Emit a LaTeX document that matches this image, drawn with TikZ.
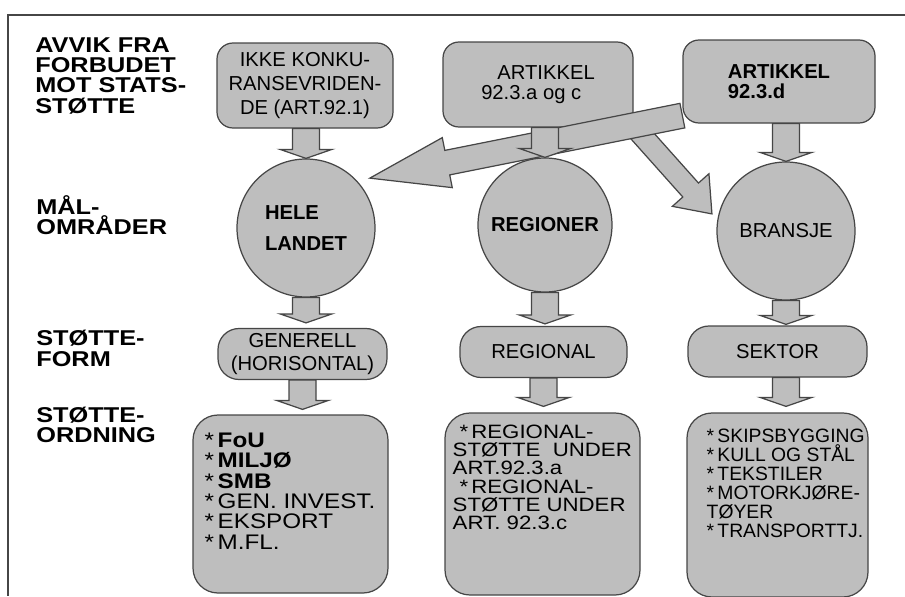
\documentclass[tikz,border=0pt]{standalone}
\usepackage{fontspec}
\setmainfont{Liberation Sans}
\newfontfamily\widesf[FakeStretch=1.18]{Liberation Sans}
\newfontfamily\listsf[FakeStretch=1.15]{Liberation Sans}
\usetikzlibrary{calc}
\definecolor{scangray}{RGB}{190,190,190}
\definecolor{edgegray}{RGB}{70,70,70}
\newcommand{\boxfont}{\fontsize{11.5}{13.5}\selectfont}

% fat arrow from #1 to #2: shaft half width #3, head half width #4, head length #5 (cm)
\newcommand{\blockarrow}[5]{%
  \coordinate (ba-s) at (#1);
  \coordinate (ba-t) at (#2);
  \coordinate (ba-h) at ($(ba-t)!#5cm!(ba-s)$);
  \filldraw[fatarrow] ($(ba-s)!#3cm!90:(ba-t)$) -- ($(ba-h)!#3cm!90:(ba-t)$)
    -- ($(ba-h)!#4cm!90:(ba-t)$) -- (ba-t) -- ($(ba-h)!#4cm!-90:(ba-t)$)
    -- ($(ba-h)!#3cm!-90:(ba-t)$) -- ($(ba-s)!#3cm!-90:(ba-t)$) -- cycle;
}

\begin{document}
\begin{tikzpicture}[
    every node/.style={inner sep=0pt},
    box/.style={draw=edgegray, fill=scangray, line width=0.7pt, align=center, font=\boxfont},
    topbox/.style={box, rounded corners=0.32cm, minimum height=1.70cm},
    ring/.style={box, circle},
    pill/.style={box, rounded corners=0.42cm, minimum height=1.02cm},
    listbox/.style={box, rounded corners=0.5cm},
    rowlabel/.style={anchor=north west, align=left, font=\widesf\bfseries\fontsize{12.2}{11.6}\selectfont},
    listtext/.style={anchor=north west, align=left},
    fatarrow/.style={draw=edgegray, fill=scangray, line width=0.7pt}
  ]
\useasboundingbox (0,0) rectangle (18.1,-11.92);
\draw[edgegray, line width=1.2pt] (18.1,-0.30) -- (0.16,-0.30) -- (0.16,-11.92);

% row labels
\node[rowlabel] (avvik) at (0.70,-0.74) {AVVIK FRA\\FORBUDET\\MOT STATS-\\STØTTE};
\node[rowlabel] (maal) at (0.72,-3.90) {MÅL-\\OMRÅDER};
\node[rowlabel] (form) at (0.72,-6.60) {STØTTE-\\FORM};
\node[rowlabel] (ordning) at (0.72,-8.13) {STØTTE-\\ORDNING};

% top row
\node[topbox, minimum width=3.52cm] (art1) at (6.10,-1.71) {IKKE KONKU-\\RANSEVRIDEN-\\DE (ART.92.1)};
\node[topbox, minimum width=3.80cm, align=left, font=\fontsize{11.5}{11.5}\selectfont] (art2) at (10.76,-1.69) {\hspace*{0.8em}ARTIKKEL\\92.3.a og c};
\node[topbox, minimum width=3.84cm, minimum height=1.66cm, align=left, font=\fontsize{11.5}{11.5}\selectfont\bfseries] (art3) at (15.58,-1.63) {ARTIKKEL\\92.3.d};

% circles
\node[ring, minimum size=2.76cm, align=left, font=\boxfont\bfseries] (hele) at (6.12,-4.56) {HELE\\[4pt]LANDET};
\node[ring, minimum size=2.68cm, font=\boxfont\bfseries] (regioner) at (10.90,-4.50) {REGIONER};
\node[ring, minimum size=2.76cm] (bransje) at (15.72,-4.62) {BRANSJE};

% support forms
\node[pill, minimum width=3.38cm] (gen) at (6.05,-7.08) {GENERELL\\(HORISONTAL)};
\node[pill, minimum width=3.34cm] (reg) at (10.87,-7.04) {REGIONAL};
\node[pill, minimum width=3.58cm] (sek) at (15.55,-7.03) {SEKTOR};

% schemes
\node[listbox, minimum width=3.90cm, minimum height=3.56cm] (fou) at (5.81,-10.08) {};
\node[listbox, minimum width=3.90cm, minimum height=3.64cm] (regst) at (10.85,-10.08) {};
\node[listbox, minimum width=3.62cm, minimum height=3.68cm] (skip) at (15.55,-10.10) {};
\node[listtext, font=\listsf\fontsize{12}{11.6}\selectfont] (fou-t) at ($(fou.north west)+(0.24,-0.36)$)
  {*\,\textbf{FoU}\\*\,\textbf{MILJØ}\\*\,\textbf{SMB}\\*\,GEN. INVEST.\\*\,EKSPORT\\*\,M.FL.};
\node[listtext, font=\listsf\fontsize{11}{10.4}\selectfont] (regst-t) at ($(regst.north west)+(0.16,-0.24)$)
  {\hspace*{0.35em}*\,REGIONAL-\\STØTTE\ \ UNDER\\ART.92.3.a\\\hspace*{0.35em}*\,REGIONAL-\\STØTTE UNDER\\ART. 92.3.c};
\node[listtext, font=\fontsize{11}{10.8}\selectfont] (skip-t) at ($(skip.north west)+(0.40,-0.32)$)
  {*\,SKIPSBYGGING\\*\,KULL OG STÅL\\*\,TEKSTILER\\*\,MOTORKJØRE-\\TØYER\\*\,TRANSPORTTJ.};

% crossing arrows from 92.3.d
\coordinate (fork) at ($(art3.south west)+(-1.02,0)$);
\coordinate (hele-in) at ($(hele.center)+(38:1.62)$);
\coordinate (bransje-in) at ($(bransje.center)+(167:1.52)$);
\blockarrow{fork}{bransje-in}{0.21}{0.49}{0.64}
\blockarrow{$(art3.south west)+(0,0.16)$}{hele-in}{0.25}{0.51}{1.58}

% down arrows
\blockarrow{hele.north |- art1.south}{hele.north}{0.27}{0.52}{0.18}
\blockarrow{regioner.north |- art2.south}{regioner.north}{0.27}{0.52}{0.18}
\blockarrow{bransje.north |- art3.south}{bransje.north}{0.27}{0.52}{0.18}
\blockarrow{hele.south}{$(hele.south |- gen.north)+(0,0.1)$}{0.27}{0.52}{0.18}
\blockarrow{regioner.south}{$(regioner.south |- reg.north)+(0,0.04)$}{0.27}{0.52}{0.18}
\blockarrow{bransje.south}{$(bransje.south |- sek.north)+(0,0.02)$}{0.27}{0.52}{0.18}
\blockarrow{gen.south}{$(gen.south |- fou.north)+(0,0.1)$}{0.27}{0.52}{0.18}
\blockarrow{reg.south}{$(reg.south |- regst.north)+(0,0.12)$}{0.27}{0.52}{0.18}
\blockarrow{bransje.south |- sek.south}{$(bransje.south |- skip.north)+(0,0.12)$}{0.27}{0.52}{0.18}
\end{tikzpicture}
\end{document}
